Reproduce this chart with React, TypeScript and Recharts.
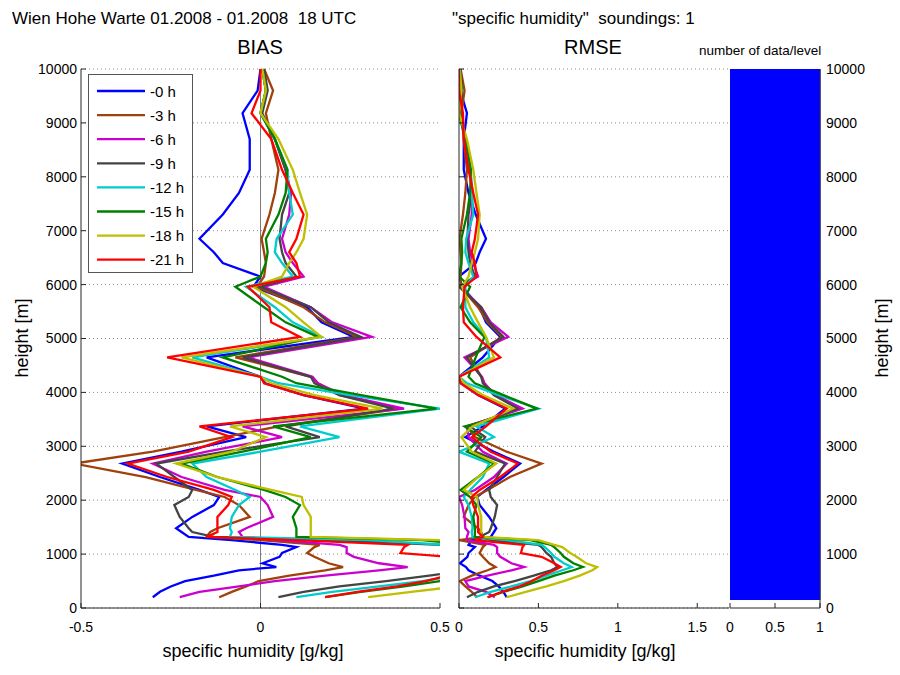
import React from "react";
import { LineChart, Line, AreaChart, Area, XAxis, YAxis, CartesianGrid, ReferenceLine } from "recharts";

// model levels [m]
const heights = [200, 300, 400, 500, 600, 700, 760, 830, 950, 1020, 1130, 1170, 1260, 1320, 1410, 1480, 1690, 1910, 2060, 2190, 2430, 2680, 2900, 3170, 3370, 3700, 3950, 4170, 4290, 4650, 5030, 5300, 5580, 5960, 6150, 6400, 6600, 6850, 7300, 7700, 8130, 8700, 9180, 9600, 10000];

// BIAS of specific humidity [g/kg] per forecast lead
const bias0h = [-0.3, -0.28, -0.25, -0.21, -0.13, -0.06, 0.044, 0.006, 0.053, 0.06, 0.1, 0.06, -0.08, -0.2, -0.22, -0.235, -0.19, -0.13, -0.115, -0.17, -0.28, -0.385, -0.22, -0.04, -0.15, 0.29, 0.12, 0.013, 0.0, -0.15, 0.26, 0.17, 0.13, -0.02, 0.0, -0.105, -0.13, -0.17, -0.105, -0.06, -0.03, -0.03, -0.05, -0.008, 0.0];
const bias3h = [-0.115, -0.08, -0.04, -0.005, 0.08, 0.18, 0.23, 0.19, 0.15, 0.13, 0.15, 0.165, 0.0, -0.15, -0.14, -0.12, -0.03, -0.06, -0.1, -0.18, -0.32, -0.52, -0.3, -0.1, 0.05, 0.39, 0.22, 0.16, 0.14, -0.07, 0.27, 0.18, 0.12, -0.01, 0.01, 0.015, 0.01, 0.003, 0.025, 0.04, 0.05, 0.03, 0.015, 0.035, 0.01];
const bias6h = [-0.225, -0.17, -0.06, 0.04, 0.18, 0.33, 0.41, 0.33, 0.26, 0.24, 0.24, 0.22, 0.05, -0.05, -0.06, -0.04, 0.035, 0.02, 0.0, -0.1, -0.22, -0.3, -0.15, 0.06, -0.05, 0.4, 0.23, 0.16, 0.145, -0.035, 0.31, 0.2, 0.14, 0.01, 0.12, 0.09, 0.07, 0.06, 0.08, 0.085, 0.07, 0.04, 0.0, 0.015, 0.005];
const bias9h = [0.05, 0.12, 0.22, 0.35, 0.47, 0.58, 0.62, 0.6, 0.58, 0.55, 0.52, 0.5, 0.2, -0.13, -0.19, -0.2, -0.225, -0.24, -0.2, -0.19, -0.24, -0.29, -0.1, 0.165, 0.07, 0.37, 0.22, 0.15, 0.14, -0.05, 0.28, 0.19, 0.14, 0.0, 0.1, 0.07, 0.06, 0.053, 0.06, 0.08, 0.07, 0.04, 0.005, 0.02, 0.01];
const bias12h = [0.1, 0.2, 0.33, 0.45, 0.55, 0.65, 0.71, 0.66, 0.6, 0.58, 0.54, 0.52, 0.3, -0.085, -0.08, -0.085, -0.08, -0.06, -0.03, -0.07, -0.15, -0.19, 0.0, 0.22, 0.11, 0.5, 0.25, 0.05, 0.0, -0.19, 0.17, 0.09, 0.04, -0.04, 0.09, 0.06, 0.04, 0.045, 0.09, 0.08, 0.075, 0.04, 0.0, 0.015, 0.005];
const bias15h = [0.18, 0.28, 0.4, 0.5, 0.6, 0.72, 0.78, 0.72, 0.66, 0.64, 0.6, 0.58, 0.45, 0.1, 0.1, 0.1, 0.09, 0.11, 0.07, 0.01, -0.12, -0.22, -0.05, 0.14, 0.035, 0.49, 0.28, 0.1, 0.06, -0.105, 0.16, 0.07, 0.01, -0.07, 0.0, 0.015, 0.02, 0.015, 0.05, 0.07, 0.075, 0.04, 0.0, 0.015, 0.005];
const bias18h = [0.3, 0.42, 0.55, 0.66, 0.76, 0.84, 0.87, 0.8, 0.74, 0.7, 0.65, 0.6, 0.5, 0.14, 0.14, 0.14, 0.14, 0.12, 0.115, 0.03, -0.12, -0.235, -0.08, 0.015, -0.085, 0.34, 0.15, 0.03, 0.0, -0.22, 0.17, 0.12, 0.07, -0.02, 0.06, 0.08, 0.1, 0.12, 0.13, 0.11, 0.09, 0.05, 0.0, 0.015, 0.005];
const bias21h = [0.18, 0.27, 0.38, 0.46, 0.52, 0.6, 0.64, 0.6, 0.52, 0.39, 0.4, 0.41, 0.1, -0.15, -0.12, -0.12, -0.12, -0.09, -0.08, -0.13, -0.26, -0.37, -0.2, -0.08, -0.17, 0.3, 0.12, 0.01, 0.0, -0.26, 0.11, 0.03, 0.025, -0.035, 0.11, 0.1, 0.08, 0.1, 0.12, 0.09, 0.06, 0.03, -0.025, 0.0, 0.0];

const leadLabels = ["-0 h", "-3 h", "-6 h", "-9 h", "-12 h", "-15 h", "-18 h", "-21 h"];
const leadColors = ["#0000ff", "#a0400a", "#cc00cc", "#444444", "#00cccc", "#008000", "#bfbf00", "#ff0000"];

const biasTicks = [-0.5, 0, 0.5];
const rmseTicks = [0, 0.5, 1, 1.5];
const countTicks = [0, 0.5, 1];
const heightTicks = [0, 1000, 2000, 3000, 4000, 5000, 6000, 7000, 8000, 9000, 10000];

// number of data per level (one sounding)
const countLevels = [150, 10000];
const countValues = [1, 1];

const FONT = "'Liberation Sans', Arial, sans-serif";
const AXIS = "#262626";
const tickFont = { fontSize: 14, fill: "#000", fontFamily: FONT };
const LINE_W = 2.3;

const allBias = [bias0h, bias3h, bias6h, bias9h, bias12h, bias15h, bias18h, bias21h];

// with a single sounding the RMSE is the absolute bias
const rows = heights.map((h, i) => {
  const row: Record<string, number> = { h };
  allBias.forEach((b, k) => {
    row[`b${k}`] = b[i];
    row[`r${k}`] = Math.abs(b[i]);
  });
  return row;
});

const countRows = countLevels.map((h, i) => ({ h, n: countValues[i] }));

const place = (left: number, width: number): React.CSSProperties => ({
  position: "absolute", left, top: 0, width, height: 675,
});

function BiasPanel() {
  return (
    <div style={place(0, 450)}>
      <LineChart width={450} height={675} layout="vertical" data={rows} margin={{ top: 69, right: 10, bottom: 37, left: 21 }}>
        <CartesianGrid vertical={false} stroke="#8c8c8c" strokeDasharray="1 3" />
        <XAxis type="number" domain={[-0.5, 0.5]} ticks={biasTicks} allowDataOverflow height={30}
          tickSize={-5} tickMargin={19} stroke={AXIS} tick={tickFont} />
        <XAxis xAxisId="top" orientation="top" type="number" domain={[-0.5, 0.5]} ticks={biasTicks}
          mirror height={0} tick={false} tickSize={5} stroke={AXIS} />
        <YAxis type="number" dataKey="h" domain={[0, 10000]} ticks={heightTicks} width={60} reversed
          tickSize={-5} tickMargin={9} stroke={AXIS} tick={tickFont} />
        <YAxis yAxisId="right" orientation="right" type="number" domain={[0, 10000]} ticks={heightTicks} reversed
          mirror width={0} tick={false} tickSize={5} stroke={AXIS} />
        <ReferenceLine x={0} stroke="#7a7a7a" />
        {leadLabels.map((name, k) => (
          <Line key={name} dataKey={`b${k}`} name={name} type="linear" stroke={leadColors[k]}
            strokeWidth={LINE_W} dot={false} isAnimationActive={false} />
        ))}
      </LineChart>
    </div>
  );
}

function RmsePanel() {
  return (
    <div style={place(440, 290)}>
      <LineChart width={290} height={675} layout="vertical" data={rows} margin={{ top: 69, right: 1, bottom: 37, left: 0 }}>
        <CartesianGrid vertical={false} stroke="#8c8c8c" strokeDasharray="1 3" />
        <XAxis type="number" domain={[0, 1.7]} ticks={rmseTicks} allowDataOverflow height={30}
          tickSize={-5} tickMargin={19} stroke={AXIS} tick={tickFont} />
        <XAxis xAxisId="top" orientation="top" type="number" domain={[0, 1.7]} ticks={rmseTicks}
          mirror height={0} tick={false} tickSize={5} stroke={AXIS} />
        <YAxis type="number" dataKey="h" domain={[0, 10000]} ticks={heightTicks} width={19} reversed
          tickSize={-5} tickMargin={9} stroke={AXIS} tickFormatter={() => ""} />
        <YAxis yAxisId="right" orientation="right" type="number" domain={[0, 10000]} ticks={heightTicks} reversed
          mirror width={0} tick={false} tickSize={5} stroke={AXIS} />
        {leadLabels.map((name, k) => (
          <Line key={name} dataKey={`r${k}`} name={name} type="linear" stroke={leadColors[k]}
            strokeWidth={LINE_W} dot={false} isAnimationActive={false} />
        ))}
      </LineChart>
    </div>
  );
}

function CountPanel() {
  return (
    <div style={place(720, 180)}>
      <AreaChart width={180} height={675} layout="vertical" data={countRows} margin={{ top: 69, right: 20, bottom: 37, left: 10 }}>
        <XAxis type="number" domain={[0, 1]} ticks={countTicks} height={30}
          tickSize={-5} tickMargin={19} stroke={AXIS} tick={tickFont} />
        <XAxis xAxisId="top" orientation="top" type="number" domain={[0, 1]} ticks={countTicks}
          mirror height={0} tick={false} tickSize={0} stroke={AXIS} />
        <YAxis orientation="right" type="number" dataKey="h" domain={[0, 10000]} ticks={heightTicks} width={60} reversed
          tickSize={0} tickMargin={6} stroke={AXIS} tick={tickFont} />
        <Area dataKey="n" type="linear" stroke="#0000ff" fill="#0000ff" fillOpacity={1} isAnimationActive={false} />
      </AreaChart>
    </div>
  );
}

function Texts() {
  const legendTop = 91;
  const legendStep = 24.1;
  return (
    <svg width={900} height={675} style={{ position: "absolute", left: 0, top: 0, pointerEvents: "none" }}
      fontFamily={FONT}>
      <text x={12} y={24} fontSize={17} style={{ whiteSpace: "pre" }}>Wien Hohe Warte 01.2008 - 01.2008  18 UTC</text>
      <text x={452} y={24} fontSize={17} style={{ whiteSpace: "pre" }}>"specific humidity"  soundings: 1</text>
      <text x={260} y={54} fontSize={20} textAnchor="middle">BIAS</text>
      <text x={593} y={54} fontSize={20} textAnchor="middle">RMSE</text>
      <text x={699} y={55} fontSize={13.5}>number of data/level</text>
      <text x={253} y={657} fontSize={18} textAnchor="middle">specific humidity [g/kg]</text>
      <text x={585} y={657} fontSize={18} textAnchor="middle">specific humidity [g/kg]</text>
      <text transform="translate(28,338) rotate(-90)" fontSize={18} textAnchor="middle">height [m]</text>
      <text transform="translate(888,338) rotate(-90)" fontSize={18} textAnchor="middle">height [m]</text>
      <rect x={88.5} y={74.5} width={104} height={198} fill="#fff" stroke="#555" />
      {leadLabels.map((name, k) => {
        const y = legendTop + k * legendStep;
        return (
          <g key={name}>
            <line x1={97} x2={145} y1={y} y2={y} stroke={leadColors[k]} strokeWidth={LINE_W} />
            <text x={150} y={y + 5.5} fontSize={15}>{name}</text>
          </g>
        );
      })}
    </svg>
  );
}

export default function App() {
  return (
    <div style={{ position: "absolute", left: 0, top: 0, width: 900, height: 675, background: "#fff", fontFamily: FONT }}>
      <BiasPanel />
      <RmsePanel />
      <CountPanel />
      <Texts />
    </div>
  );
}
